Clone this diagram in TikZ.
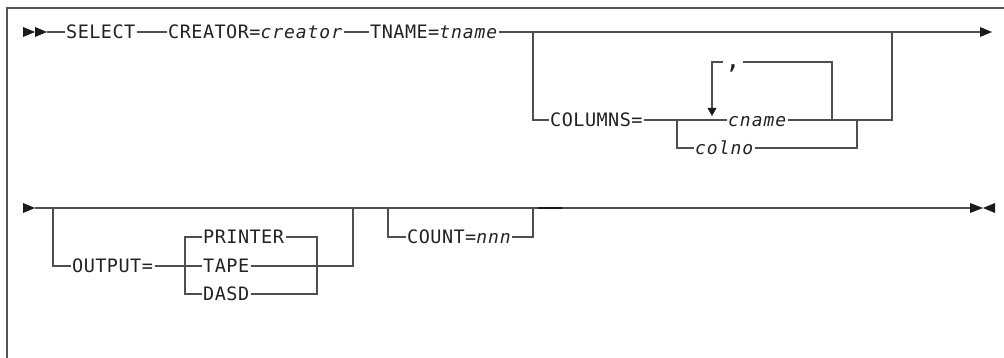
\documentclass[tikz,border=0pt]{standalone}
\usepackage{fontspec}
\newfontfamily\kwfont{DejaVu Sans Mono}[LetterSpace=2.5]
\newfontfamily\varfont{DejaVu Sans Mono Oblique}[LetterSpace=5.3]
\newcommand\kw[1]{{\kwfont\fontsize{18.5}{21}\selectfont #1}}
\newcommand\var[1]{{\varfont\fontsize{18}{21}\selectfont #1}}
\definecolor{railgray}{HTML}{4F4F4F}
\definecolor{framegray}{HTML}{555555}
\definecolor{inkc}{HTML}{222222}
\definecolor{tipc}{HTML}{1A1A1A}
\tikzset{
  rail/.style={draw=railgray, line width=1.3pt},
  tok/.style={inner xsep=1.5pt, inner ysep=0pt, text height=13.4pt,
              text depth=0pt, anchor=west, text=inkc},
  tipfill/.style={fill=tipc},
}
\begin{document}
\begin{tikzpicture}[x=1pt,y=-1pt]
\useasboundingbox (0,0) rectangle (1004,358);

% frame
\draw[framegray, line width=1.5pt] (7,358) -- (7,8) -- (1004,8);

% ---------- first line ----------
\coordinate (st1) at (47,32);
\coordinate (j1) at (533,32);
\coordinate (j2) at (892,32);
\coordinate (e1) at (980,32);
\coordinate (b1) at (677,120);
\coordinate (b2) at (857,120);
\coordinate (l2) at (832,120);
\coordinate (l1) at (712,62);
\coordinate (l1d) at (712,108);

\node[tok] (sel) at (64.5,32) {\kw{SELECT}};
\node[tok] (cre) at (166.5,32) {\kw{CREATOR=}\var{creator}};
\node[tok] (tn)  at (368.5,32) {\kw{TNAME=}\var{tname}};
\node[tok] (col) at (548.5,120) {\kw{COLUMNS=}};
\node[tok] (cn)  at (726.5,120) {\var{cname}};
\node[tok] (cl)  at (693.5,148) {\var{colno}};
\node[tok, anchor=center, inner xsep=2pt] (cm) at (733,62)
  {{\kwfont\fontsize{26}{28}\selectfont ,}};

\fill[tipfill] (23,27) -- (35,32) -- (23,37) -- cycle;
\fill[tipfill] (35,27) -- (47,32) -- (35,37) -- cycle;
\draw[rail] (st1) -- (sel.west);
\draw[rail] (sel.east) -- (cre.west);
\draw[rail] (cre.east) -- (tn.west);
\draw[rail] (tn.east) -- (e1);
\fill[tipfill] (980,27) -- (992,32) -- (980,37) -- cycle;

\draw[rail] (j1) |- (col.west);
\draw[rail] (col.east) -- (cn.west);
\draw[rail] (cn.east) -| (j2);
\draw[rail] (b1) |- (cl.west);
\draw[rail] (cl.east) -| (b2);
\draw[rail] (l2) |- (cm.east);
\draw[rail] (cm.west) -- (l1) -- (l1d);
\fill[tipfill] (707.5,108) -- (716.5,108) -- (712,116) -- cycle;

% ---------- second line ----------
\coordinate (st2) at (35,208);
\coordinate (e2) at (970,208);
\coordinate (a1) at (53,208);
\coordinate (a2) at (185,266);
\coordinate (a4) at (353,208);
\coordinate (rt) at (317,237);
\coordinate (rb) at (317,294);
\coordinate (c1) at (388,208);
\coordinate (c2) at (533,208);

\node[tok] (out) at (70.5,266) {\kw{OUTPUT=}};
\node[tok] (pr)  at (201.5,237) {\kw{PRINTER}};
\node[tok] (tp)  at (201.5,266) {\kw{TAPE}};
\node[tok] (ds)  at (201.5,294) {\kw{DASD}};
\node[tok] (cnt) at (405.5,237) {\kw{COUNT=}\var{nnn}};

\fill[tipfill] (23,203) -- (35,208) -- (23,213) -- cycle;
\draw[rail] (st2) -- (e2);
\draw[tipc, line width=2pt] (538,208) -- (562,208);
\fill[tipfill] (970,203) -- (983,208) -- (970,213) -- cycle;
\fill[tipfill] (995,203) -- (983,208) -- (995,213) -- cycle;

\draw[rail] (a1) |- (out.west);
\draw[rail] (out.east) -- (tp.west);
\draw[rail] (tp.east) -| (a4);
\draw[rail] (a2) |- (pr.west);
\draw[rail] (a2) |- (ds.west);
\draw[rail] (pr.east) -- (rt) -- (rb) -- (ds.east);
\draw[rail] (c1) |- (cnt.west);
\draw[rail] (cnt.east) -| (c2);
\end{tikzpicture}
\end{document}
